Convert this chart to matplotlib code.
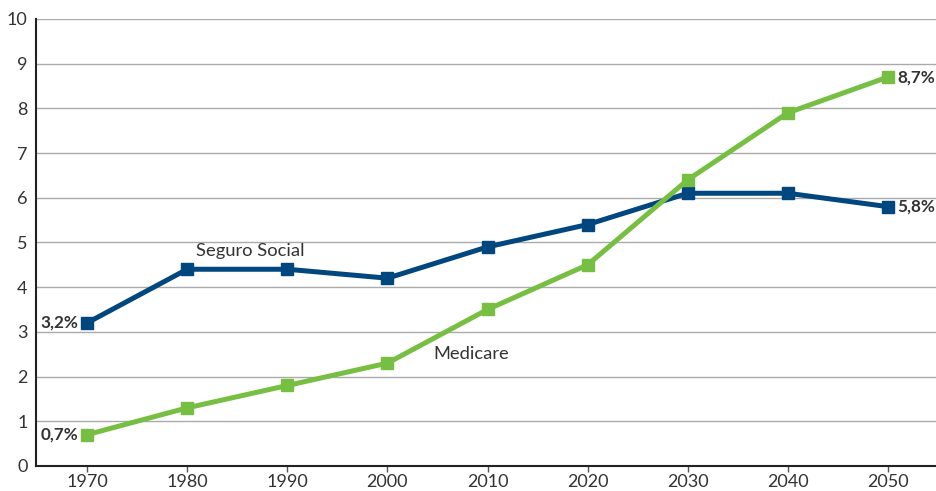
import matplotlib.pyplot as plt

plt.rcParams['font.family'] = ['Lato', 'DejaVu Sans']

years = [1970, 1980, 1990, 2000, 2010, 2020, 2030, 2040, 2050]
seguro_social = [3.2, 4.4, 4.4, 4.2, 4.9, 5.4, 6.1, 6.1, 5.8]
medicare = [0.7, 1.3, 1.8, 2.3, 3.5, 4.5, 6.4, 7.9, 8.7]

blue = "#00467f"
green = "#77bf43"
text_col = "#333333"

fig = plt.figure(figsize=(9.36, 4.91), dpi=100)
ax = fig.add_axes([0.0385, 0.051, 0.9615, 0.9105])

ax.plot(years, seguro_social, color=blue, lw=3.6, marker="s", ms=9, zorder=3)
ax.plot(years, medicare, color=green, lw=3.6, marker="s", ms=9, zorder=4)

ax.set_xlim(1964.9, 2054.8)
ax.set_ylim(0, 10)
ax.set_xticks(years)
ax.set_yticks(range(0, 11))
ax.grid(axis="y", color="#aaaaaa", lw=1)
ax.set_axisbelow(True)

for s in ["top", "right"]:
    ax.spines[s].set_visible(False)
for s in ["left", "bottom"]:
    ax.spines[s].set_color("#222222")
    ax.spines[s].set_linewidth(1.5)

ax.tick_params(axis="x", length=4, width=1, color="#555555", labelsize=13, labelcolor=text_col, pad=2)
ax.tick_params(axis="y", length=0, labelsize=13, labelcolor=text_col, pad=6)

# end labels
ax.text(years[0] - 0.9, seguro_social[0], "3,2%", ha="right", va="center", fontsize=12.3, fontweight="bold", color=text_col)
ax.text(years[0] - 0.9, medicare[0], "0,7%", ha="right", va="center", fontsize=12.3, fontweight="bold", color=text_col)
ax.text(years[-1] + 0.9, medicare[-1], "8,7%", ha="left", va="center", fontsize=12.3, fontweight="bold", color=text_col)
ax.text(years[-1] + 0.9, seguro_social[-1], "5,8%", ha="left", va="center", fontsize=12.3, fontweight="bold", color=text_col)

# series labels
ax.text(1980.9, 4.8, "Seguro Social", ha="left", va="center", fontsize=13.2, color=text_col)
ax.text(2004.6, 2.5, "Medicare", ha="left", va="center", fontsize=13.2, color=text_col)

fig.savefig("out.png", dpi=100)
